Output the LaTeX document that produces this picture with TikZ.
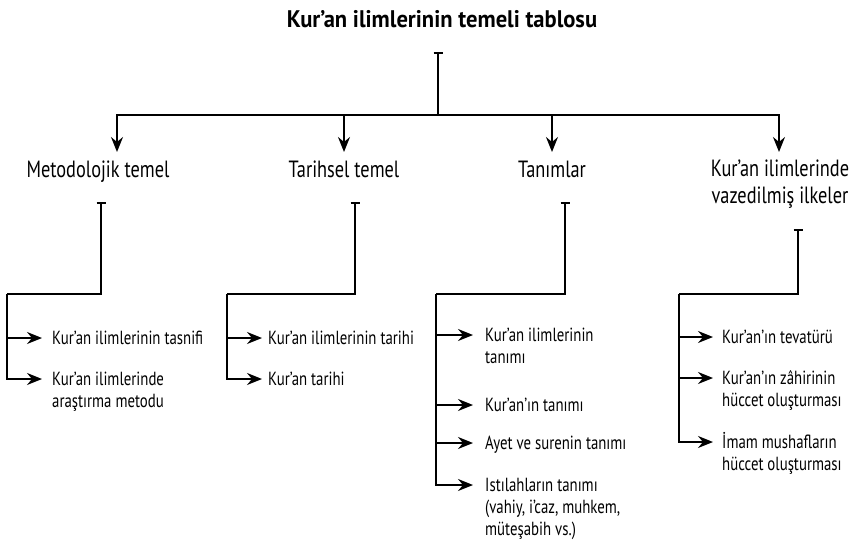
\documentclass[tikz,border=0pt]{standalone}
\usepackage{fontspec}
\setmainfont{PT Sans}[FakeStretch=0.78]
\newfontfamily\titlefont{PT Sans}[FakeStretch=0.94]
\usetikzlibrary{arrows.meta}
% stacked lines whose baseline is the first line
\newcommand\lrows[1]{\begin{tabular}[t]{@{}l@{}}#1\end{tabular}}
\newcommand\crows[1]{\begin{tabular}[t]{@{}c@{}}#1\end{tabular}}
\begin{document}
\begin{tikzpicture}[x=1pt,y=-1pt,
  line/.style={line width=1.9pt},
  teeline/.style={line, {Bar[width=9pt]}-},
  arr/.style={line, -{Stealth[length=15pt,width=12pt,inset=5pt]}},
  head/.style={font=\fontsize{23.5}{27}\selectfont, inner sep=0pt, anchor=base},
  item/.style={font=\fontsize{19}{22}\selectfont, inner sep=0pt, anchor=base west},
  title/.style={font=\titlefont\bfseries\fontsize{24}{28}\selectfont, inner sep=0pt, anchor=base}
]
\useasboundingbox (0,0) rectangle (852,541);

% title and the main distribution bus
\node[title] (t) at (442,27) {Kur’an ilimlerinin temeli tablosu};
\coordinate (t0) at (438,52);
\coordinate (j) at (438,115);
\coordinate (a1) at (117,152);
\coordinate (a2) at (344,152);
\coordinate (a3) at (552,152);
\coordinate (a4) at (779,152);
\draw[teeline] (t0) -- (j);
\foreach \a in {a1,a2,a3,a4} \draw[arr] (j) -| (\a);

% main headings
\node[head] (h1) at (98,177) {Metodolojik temel};
\node[head] (h2) at (344,177) {Tarihsel temel};
\node[head] (h3) at (552,177) {Tanımlar};
\node[head] (h4) at (780,176) {\crows{Kur’an ilimlerinde\\vazedilmiş ilkeler}};

% branch starts and corners
\coordinate (m0) at (101,202);  \coordinate (mc) at (7,294);
\coordinate (s0) at (355,202);  \coordinate (sc) at (227,294);
\coordinate (n0) at (565,202);  \coordinate (nc) at (436,294);
\coordinate (k0) at (798,229);  \coordinate (kc) at (679,294);

% sub items
\node[item] (m1) at (52,344) {Kur’an ilimlerinin tasnifi};
\node[item] (m2) at (52,385) {\lrows{Kur’an ilimlerinde\\araştırma metodu}};

\node[item] (s1) at (268,344) {Kur’an ilimlerinin tarihi};
\node[item] (s2) at (268,385) {Kur’an tarihi};

\node[item] (n1) at (485,341) {\lrows{Kur’an ilimlerinin\\tanımı}};
\node[item] (n2) at (485,411) {Kur’an’ın tanımı};
\node[item] (n3) at (485,449) {Ayet ve surenin tanımı};
\node[item] (n4) at (485,491) {\lrows{Istılahların tanımı\\(vahiy, i’caz, muhkem,\\müteşabih vs.)}};

\node[item] (k1) at (722,343) {Kur’an’ın tevatürü};
\node[item] (k2) at (722,384) {\lrows{Kur’an’ın zâhirinin\\hüccet oluşturması}};
\node[item] (k3) at (722,448) {\lrows{İmam mushafların\\hüccet oluşturması}};

% connectors of the four branches
\draw[teeline] (m0) |- (mc);
\foreach \c in {m1,m2} \draw[arr] (mc) |- ([shift={(-10pt,6pt)}]\c.base west);
\draw[teeline] (s0) |- (sc);
\foreach \c in {s1,s2} \draw[arr] (sc) |- ([shift={(-6pt,6pt)}]\c.base west);
\draw[teeline] (n0) |- (nc);
\foreach \c in {n1,n2,n3,n4} \draw[arr] (nc) |- ([shift={(-12pt,6pt)}]\c.base west);
\draw[teeline] (k0) |- (kc);
\foreach \c in {k1,k2,k3} \draw[arr] (kc) |- ([shift={(-9pt,6pt)}]\c.base west);
\end{tikzpicture}
\end{document}
